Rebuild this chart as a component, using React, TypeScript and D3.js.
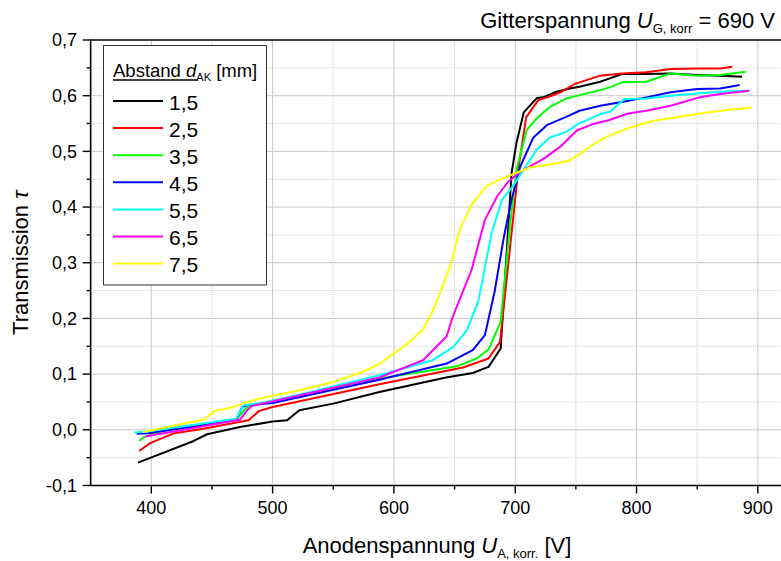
import React from 'react';
import * as d3 from 'd3';

// Transmission vs. anode voltage for each cathode-anode distance d_AK [mm]
const d15: [number, number][] = [
  [389, -0.059], [435, -0.020], [446, -0.008], [473, 0.005], [500, 0.015], [512, 0.017],
  [522, 0.035], [550, 0.047], [588, 0.068], [643, 0.094], [665, 0.102], [678, 0.113],
  [688, 0.146], [697, 0.461], [701, 0.515], [707, 0.570], [718, 0.596], [723, 0.597],
  [734, 0.607], [745, 0.613], [753, 0.616], [770, 0.625], [778, 0.631], [788, 0.639],
  [808, 0.639], [828, 0.640], [850, 0.637], [869, 0.636], [887, 0.634],
];
const d25: [number, number][] = [
  [390, -0.038], [399, -0.024], [419, -0.006], [443, 0.002], [480, 0.017], [489, 0.034],
  [500, 0.041], [588, 0.082], [657, 0.112], [678, 0.128], [687.5, 0.158], [702.5, 0.467],
  [709, 0.561], [719, 0.592], [729, 0.599], [738, 0.607], [749, 0.621], [753, 0.624],
  [770, 0.636], [788, 0.640], [808, 0.642], [828, 0.648], [850, 0.649], [869, 0.649], [879, 0.652],
];
const d35: [number, number][] = [
  [390, -0.020], [394, -0.013], [410, -0.002], [470, 0.018], [477, 0.036], [481, 0.044],
  [588, 0.092], [652, 0.114], [668, 0.128], [678, 0.144], [688, 0.194], [695.6, 0.365],
  [701, 0.467], [709.4, 0.538], [717.6, 0.559], [728.6, 0.580], [742.4, 0.595], [753, 0.601],
  [770, 0.610], [778, 0.615], [788, 0.624], [808, 0.625], [828, 0.640], [850, 0.636],
  [869, 0.637], [890, 0.643],
];
const d45: [number, number][] = [
  [388, -0.007], [397.5, -0.006], [470, 0.018], [475, 0.041], [479, 0.044], [500, 0.048],
  [588, 0.090], [643.5, 0.119], [665, 0.143], [675, 0.170], [683, 0.248], [690.7, 0.347],
  [697, 0.413], [704, 0.472], [715, 0.525], [726, 0.547], [742, 0.562], [753, 0.573],
  [770, 0.582], [789, 0.589], [808, 0.597], [828, 0.606], [850, 0.612], [869, 0.613], [885, 0.619],
];
const d55: [number, number][] = [
  [386, -0.005], [396, -0.003], [470, 0.020], [476, 0.044], [492, 0.048], [522, 0.063],
  [588, 0.098], [632, 0.125], [649, 0.149], [660, 0.178], [669.5, 0.230], [680.5, 0.353],
  [689, 0.413], [698, 0.437], [705, 0.461], [717.6, 0.503], [728.6, 0.525], [742, 0.535],
  [753, 0.551], [759, 0.556], [770, 0.567], [778, 0.571], [790, 0.594], [808, 0.595],
  [828, 0.600], [850, 0.604], [869, 0.607], [892, 0.609],
];
const d65: [number, number][] = [
  [395, -0.012], [473, 0.018], [479, 0.035], [483, 0.043], [588, 0.094], [624, 0.125],
  [643.5, 0.168], [648, 0.200], [664, 0.287], [675, 0.377], [685, 0.419], [694, 0.445],
  [704, 0.463], [723, 0.486], [737, 0.508], [751, 0.538], [764, 0.549], [777, 0.556],
  [793, 0.568], [808, 0.573], [828, 0.582], [852, 0.597], [869, 0.603], [893, 0.609],
];
const d75: [number, number][] = [
  [393, -0.004], [443, 0.018], [452.5, 0.034], [465, 0.039], [476, 0.048], [495, 0.059],
  [522.5, 0.071], [550, 0.086], [572, 0.102], [588.5, 0.119], [613, 0.158], [624, 0.180],
  [631, 0.209], [639, 0.250], [648, 0.305], [654, 0.359], [664, 0.404], [676, 0.437],
  [685, 0.447], [698, 0.459], [712, 0.471], [731, 0.477], [744, 0.483], [753, 0.495],
  [763, 0.511], [775, 0.526], [795, 0.543], [814, 0.555], [850, 0.567], [869, 0.573], [895, 0.579],
];

const distances = ['1,5', '2,5', '3,5', '4,5', '5,5', '6,5', '7,5'];
const series = [d15, d25, d35, d45, d55, d65, d75];
const colors = ['#000000', '#ff0000', '#00ff00', '#0000ff', '#00ffff', '#ff00ff', '#ffff00'];

const xMajor = [400, 500, 600, 700, 800, 900];
const xMinor = [450, 550, 650, 750, 850];
const yMajor = [-0.1, 0, 0.1, 0.2, 0.3, 0.4, 0.5, 0.6, 0.7];
const yMinor = [-0.05, 0.05, 0.15, 0.25, 0.35, 0.45, 0.55, 0.65];

const FONT = "'Liberation Sans', Arial, Helvetica, sans-serif";

export default function App() {
  const W = 781, H = 561;
  const x = d3.scaleLinear().domain([350, 920]).range([90.65, 782.1]);
  const y = d3.scaleLinear().domain([-0.1, 0.7]).range([485.5, 40]);
  const line = d3.line<[number, number]>().x(d => x(d[0])).y(d => y(d[1]));
  const fmtY = (v: number) => (v < -1e-9 ? '-' : '') + Math.abs(v).toFixed(1).replace('.', ',');
  const x0 = x.range()[0], x1 = x.range()[1];
  const y0 = y.range()[0], y1 = y.range()[1];

  const legX = 103.5, legY = 45.5, legW = 163, legH = 239.5;
  const rowY = (i: number) => 101 + i * 27.1;

  return (
    <svg width={W} height={H} style={{ position: 'absolute', left: 0, top: 0, background: '#fff' }}
      fontFamily={FONT}>
      <rect x={0} y={0} width={W} height={H} fill="#fff" />
      {/* grid */}
      {xMinor.map(v => (
        <line key={'xm' + v} x1={x(v)} x2={x(v)} y1={y1} y2={y0} stroke="#cfcfcf" strokeWidth={1} strokeDasharray="1,1" />
      ))}
      {yMinor.map(v => (
        <line key={'ym' + v} x1={x0} x2={x1} y1={y(v)} y2={y(v)} stroke="#cfcfcf" strokeWidth={1} strokeDasharray="1,1" />
      ))}
      {xMajor.map(v => (
        <line key={'xM' + v} x1={x(v)} x2={x(v)} y1={y1} y2={y0} stroke="#c8c8c8" strokeWidth={1} />
      ))}
      {yMajor.filter(v => v > -0.1 && v < 0.7).map(v => (
        <line key={'yM' + v} x1={x0} x2={x1} y1={y(v)} y2={y(v)} stroke="#c8c8c8" strokeWidth={1} />
      ))}

      {/* curves */}
      {series.map((s, i) => (
        <path key={'s' + i} d={line(s) || ''} fill="none" stroke={colors[i]} strokeWidth={2} strokeLinejoin="round" />
      ))}

      {/* axes */}
      <line x1={x0} x2={x0} y1={y1 - 0.5} y2={y0 + 0.5} stroke="#000" strokeWidth={1.6} />
      <line x1={x0} x2={x1} y1={y0} y2={y0} stroke="#000" strokeWidth={1.6} />
      <line x1={x0} x2={x1} y1={y1} y2={y1} stroke="#000" strokeWidth={1.6} />
      {yMajor.map(v => (
        <g key={'yt' + v}>
          <line x1={x0 - 8} x2={x0} y1={y(v)} y2={y(v)} stroke="#000" strokeWidth={1.4} />
          <text x={77} y={y(v)} dy="0.35em" textAnchor="end" fontSize={18}>{fmtY(v)}</text>
        </g>
      ))}
      {yMinor.map(v => (
        <line key={'ymt' + v} x1={x0 - 4} x2={x0} y1={y(v)} y2={y(v)} stroke="#000" strokeWidth={1.4} />
      ))}
      {xMajor.map(v => (
        <g key={'xt' + v}>
          <line x1={x(v)} x2={x(v)} y1={y0} y2={y0 + 8} stroke="#000" strokeWidth={1.4} />
          <text x={x(v)} y={514} textAnchor="middle" fontSize={18}>{v}</text>
        </g>
      ))}
      {xMinor.map(v => (
        <line key={'xmt' + v} x1={x(v)} x2={x(v)} y1={y0} y2={y0 + 4} stroke="#000" strokeWidth={1.4} />
      ))}

      {/* title */}
      <text x={775} y={28} textAnchor="end" fontSize={22}>
        Gitterspannung <tspan fontStyle="italic">U</tspan>
        <tspan fontSize={13} dy={5}>G, korr</tspan>
        <tspan dy={-5}> = 690 V</tspan>
      </text>

      {/* axis titles */}
      <text x={437} y={553} textAnchor="middle" fontSize={22}>
        Anodenspannung <tspan fontStyle="italic">U</tspan>
        <tspan fontSize={13} dy={5}>A, korr.</tspan>
        <tspan dy={-5}> [V]</tspan>
      </text>
      <text transform={`translate(28, ${(y0 + y1) / 2}) rotate(-90)`} textAnchor="middle" fontSize={22}>
        Transmission <tspan fontStyle="italic">τ</tspan>
      </text>

      {/* legend */}
      <rect x={legX} y={legY} width={legW} height={legH} fill="#fff" stroke="#333" strokeWidth={1} />
      <text x={113} y={76.5} fontSize={18.5}>
        Abstand <tspan fontStyle="italic">d</tspan>
        <tspan fontSize={11} dy={4}>AK</tspan>
        <tspan dy={-4}> [mm]</tspan>
      </text>
      <line x1={113} x2={198} y1={80} y2={80} stroke="#000" strokeWidth={1.5} />
      {distances.map((lab, i) => (
        <g key={'lg' + i}>
          <line x1={113} x2={163} y1={rowY(i)} y2={rowY(i)} stroke={colors[i]} strokeWidth={2} />
          <text x={169} y={rowY(i) + 1.5} dy="0.35em" fontSize={21}>{lab}</text>
        </g>
      ))}
    </svg>
  );
}
